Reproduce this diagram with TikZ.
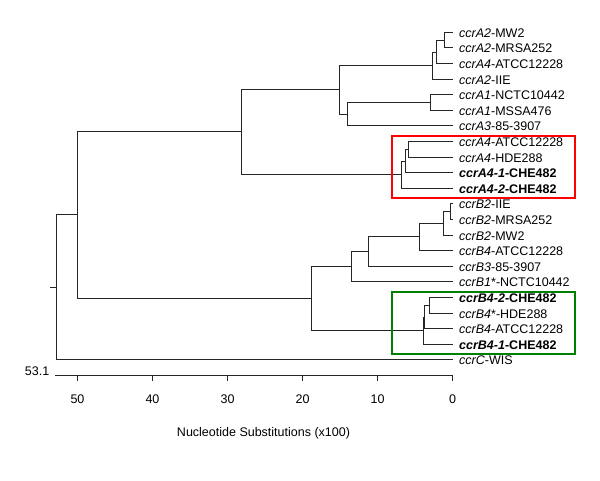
\documentclass[tikz,border=0pt]{standalone}
\usepackage{fontspec}
\setmainfont{Liberation Sans}
\begin{document}
\begin{tikzpicture}[x=1pt,y=-1pt,
  branch/.style={line width=1.6pt,draw=black!85,line cap=rect},
  leaflab/.style={anchor=base west,inner sep=0pt,font=\fontsize{12.5}{15}\selectfont},
  ticklab/.style={anchor=base,inner sep=0pt,font=\fontsize{12.5}{15}\selectfont},
  redbox/.style={draw=red,line width=2pt},
  greenbox/.style={draw=green!50!black,line width=2pt}]
\useasboundingbox (0,0) rectangle (600,480);
% leaves
\foreach \i/\t in {1/\textit{ccrA2}-MW2, 2/\textit{ccrA2}-MRSA252, 3/\textit{ccrA4}-ATCC12228,
  4/\textit{ccrA2}-IIE, 5/\textit{ccrA1}-NCTC10442, 6/\textit{ccrA1}-MSSA476,
  7/\textit{ccrA3}-85-3907, 8/\textit{ccrA4}-ATCC12228, 9/\textit{ccrA4}-HDE288,
  10/\textbf{\textit{ccrA4-1}-CHE482}, 11/\textbf{\textit{ccrA4-2}-CHE482},
  12/\textit{ccrB2}-IIE, 13/\textit{ccrB2}-MRSA252, 14/\textit{ccrB2}-MW2,
  15/\textit{ccrB4}-ATCC12228, 16/\textit{ccrB3}-85-3907, 17/\textit{ccrB1}*-NCTC10442,
  18/\textbf{\textit{ccrB4-2}-CHE482}, 19/\textit{ccrB4}*-HDE288, 20/\textit{ccrB4}-ATCC12228,
  21/\textbf{\textit{ccrB4-1}-CHE482}, 22/\textit{ccrC}-WIS}{
  \pgfmathsetmacro{\yy}{int(32.3+(\i-1)*15.6)+0.5}
  \coordinate (e\i) at (452.5,\yy);
  \node[leaflab] (t\i) at (459,\yy+4.8) {\t};
}
% internal nodes
\coordinate (n1) at (444.5,40.5);
\coordinate (n2) at (436.5,52.5);
\coordinate (n3) at (432.5,65.5);
\coordinate (n4) at (430.5,102.5);
\coordinate (n5) at (347.5,114.5);
\coordinate (n6) at (339.5,89.5);
\coordinate (n7) at (408.5,149.5);
\coordinate (n8) at (405.5,161.5);
\coordinate (n9) at (401.5,174.5);
\coordinate (nA) at (241.5,131.5);
\coordinate (m1) at (450.5,211.5);
\coordinate (m2) at (443.5,223.5);
\coordinate (m3) at (419.5,236.5);
\coordinate (m4) at (368.5,251.5);
\coordinate (m5) at (351.5,266.5);
\coordinate (g1) at (429.5,305.5);
\coordinate (g2) at (424.5,317.5);
\coordinate (g3) at (423.5,330.5);
\coordinate (m6) at (311.5,298.5);
\coordinate (nB) at (77.5,214.5);
\coordinate (root) at (56.5,287.5);
\coordinate (stub) at (50.5,287.5);
% branches
\draw[branch] (n1) |- (e1) (n1) |- (e2);
\draw[branch] (n2) |- (n1) (n2) |- (e3);
\draw[branch] (n3) |- (n2) (n3) |- (e4);
\draw[branch] (n4) |- (e5) (n4) |- (e6);
\draw[branch] (n5) |- (n4) (n5) |- (e7);
\draw[branch] (n6) |- (n3) (n6) |- (n5);
\draw[branch] (n7) |- (e8) (n7) |- (e9);
\draw[branch] (n8) |- (n7) (n8) |- (e10);
\draw[branch] (n9) |- (n8) (n9) |- (e11);
\draw[branch] (nA) |- (n6) (nA) |- (n9);
\draw[branch] (m1) |- (e12) (m1) |- (e13);
\draw[branch] (m2) |- (m1) (m2) |- (e14);
\draw[branch] (m3) |- (m2) (m3) |- (e15);
\draw[branch] (m4) |- (m3) (m4) |- (e16);
\draw[branch] (m5) |- (m4) (m5) |- (e17);
\draw[branch] (g1) |- (e18) (g1) |- (e19);
\draw[branch] (g2) |- (g1) (g2) |- (e20);
\draw[branch] (g3) |- (g2) (g3) |- (e21);
\draw[branch] (m6) |- (m5) (m6) |- (g3);
\draw[branch] (nB) |- (nA) (nB) |- (m6);
\draw[branch] (root) |- (nB) (root) |- (e22);
\draw[branch] (stub) -- (root);
% boxes
\draw[redbox] (392,136) rectangle (575,198);
\draw[greenbox] (392,292) rectangle (575,354);
% axis
\coordinate (axL) at (55,375.5);
\coordinate (axR) at (453,375.5);
\draw[branch,line cap=butt] (axL) -- (axR);
\node[anchor=base east,inner sep=0pt,font=\fontsize{12.5}{15}\selectfont] (lab531) at (49.5,375.7) {53.1};
\foreach \v in {0,10,20,30,40,50}{
  \coordinate (tk\v) at ({452.5-\v*7.5},375.5);
  \draw[branch,line cap=butt] (tk\v) -- ++(0,5.5);
  \node[ticklab] (tl\v) at ({452.5-\v*7.5},403.3) {\v};
}
\node[ticklab] (title) at (263.5,436) {Nucleotide Substitutions (x100)};
\end{tikzpicture}
\end{document}
